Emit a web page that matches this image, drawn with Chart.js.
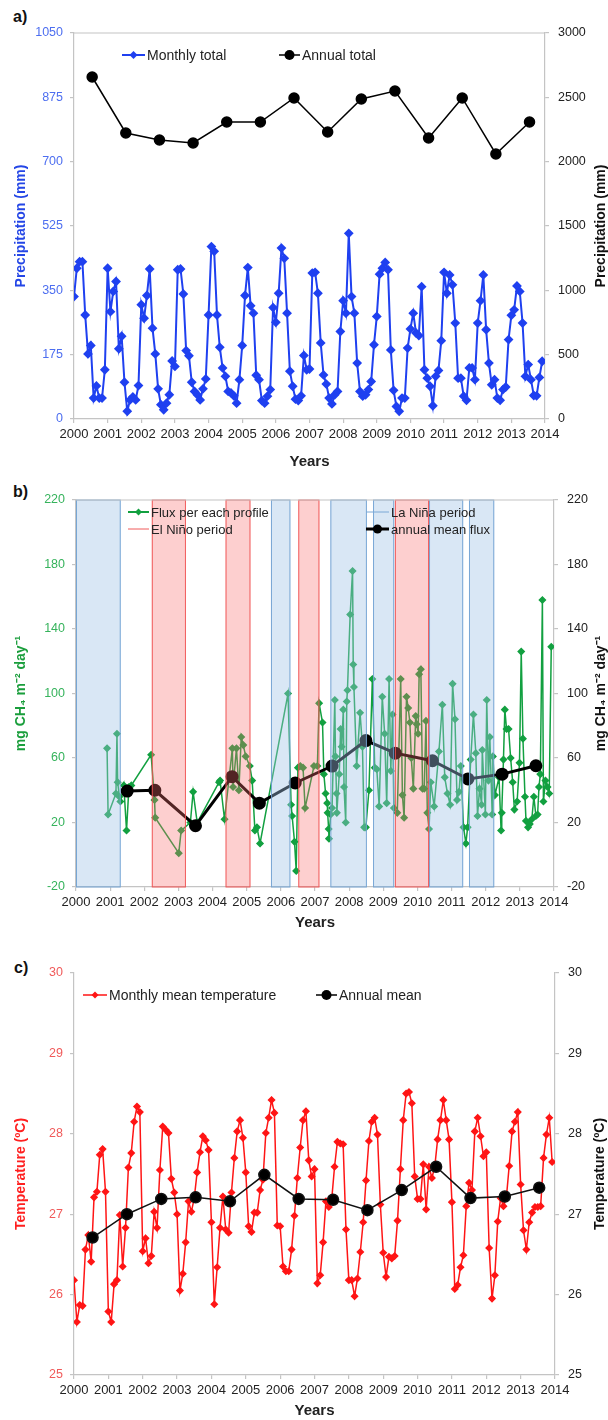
<!DOCTYPE html>
<html>
<head>
<meta charset="utf-8">
<script src="https://cdn.jsdelivr.net/npm/chart.js@4.4.0/dist/chart.umd.min.js"></script>
<style>
  body { margin: 0; background: #fff; width: 608px; height: 1420px; position: relative; overflow: hidden; font-family: "Liberation Sans", Arial, sans-serif; }
  canvas { position: absolute; left: 0; }
  .tag { position: absolute; font-weight: bold; font-size: 16px; color: #111; }
</style>
</head>
<body>
<div class="tag" style="left:13px; top:8px">a)</div>
<div class="tag" style="left:13px; top:483px">b)</div>
<div class="tag" style="left:14px; top:959px">c)</div>
<canvas id="chartA" width="608" height="480" style="top:0"></canvas>
<canvas id="chartB" width="608" height="461" style="top:480px"></canvas>
<canvas id="chartC" width="608" height="479" style="top:941px"></canvas>
<script>
const FONT = '"Liberation Sans", Arial, sans-serif';
const GRAY = '#c4c4c4';

// ---- a) precipitation ----
const years = [2000, 2001, 2002, 2003, 2004, 2005, 2006, 2007, 2008, 2009, 2010, 2011, 2012, 2013];
// monthly totals (mm), Jan 2000 .. Dec 2013
const precipMonthly = [
  333, 410, 428, 428, 283, 177, 200, 57, 90, 57, 57, 134,
  410, 292, 347, 374, 191, 225, 100, 21, 52, 60, 52, 91,
  311, 274, 336, 408, 247, 177, 82, 39, 25, 43, 66, 158,
  143, 406, 408, 340, 186, 172, 100, 75, 66, 52, 82, 109,
  283, 469, 456, 283, 195, 139, 116, 75, 71, 63, 43, 107,
  200, 336, 412, 308, 288, 119, 107, 50, 43, 62, 80, 303,
  263, 342, 465, 437, 288, 130, 89, 54, 50, 63, 173, 134,
  136, 397, 399, 342, 207, 120, 95, 57, 41, 66, 75, 238,
  322, 288, 505, 333, 288, 152, 75, 62, 66, 80, 102, 202,
  279, 394, 410, 426, 406, 188, 78, 34, 21, 57, 57, 193,
  245, 288, 234, 227, 360, 134, 111, 89, 36, 116, 132, 213,
  399, 342, 392, 365, 261, 111, 111, 62, 51, 139, 139, 107,
  261, 322, 392, 243, 152, 93, 107, 57, 51, 80, 87, 216,
  282, 297, 362, 347, 261, 116, 148, 107, 64, 63, 113, 157
];
const precipAnnual = [2658, 2223, 2168, 2145, 2308, 2308, 2495, 2231, 2487, 2549, 2184, 2495, 2060, 2308];

// ---- b) methane flux ----
const fluxTime = [
  2000.91, 2000.94, 2001.17, 2001.20, 2001.22, 2001.27, 2001.30, 2001.40, 2001.48, 2001.55, 2001.62,
  2002.20, 2002.30, 2002.32, 2003.01, 2003.08, 2003.35, 2003.43, 2003.55,
  2004.19, 2004.22, 2004.35, 2004.58, 2004.60, 2004.70, 2004.77, 2004.84, 2004.90, 2004.97,
  2005.09, 2005.16, 2005.24, 2005.30, 2005.39,
  2006.21, 2006.30, 2006.33, 2006.40, 2006.45, 2006.50, 2006.57, 2006.65, 2006.71, 2006.97,
  2007.07, 2007.12, 2007.22, 2007.26, 2007.31, 2007.36, 2007.37, 2007.40, 2007.41, 2007.46, 2007.50,
  2007.58, 2007.60, 2007.63, 2007.64, 2007.71, 2007.75, 2007.78, 2007.83, 2007.85, 2007.90, 2007.93, 2007.95,
  2008.03, 2008.10, 2008.12, 2008.14, 2008.22, 2008.32, 2008.39, 2008.44, 2008.49, 2008.58, 2008.68,
  2008.75, 2008.81, 2008.88, 2008.97,
  2009.04, 2009.10, 2009.17, 2009.22, 2009.27, 2009.31, 2009.41, 2009.51, 2009.56, 2009.61, 2009.68,
  2009.73, 2009.78, 2009.82, 2009.88, 2009.95, 2009.98,
  2010.02, 2010.05, 2010.10, 2010.15, 2010.20, 2010.25, 2010.29, 2010.34, 2010.39, 2010.49, 2010.63,
  2010.73, 2010.80, 2010.88, 2010.96,
  2011.03, 2011.10, 2011.16, 2011.22, 2011.27, 2011.35, 2011.42, 2011.47, 2011.56, 2011.64, 2011.71,
  2011.76, 2011.82, 2011.88, 2011.90, 2011.99,
  2012.03, 2012.08, 2012.12, 2012.19, 2012.21, 2012.27, 2012.39, 2012.45, 2012.47, 2012.52, 2012.56,
  2012.61, 2012.67, 2012.73, 2012.79, 2012.84, 2012.92, 2012.99,
  2013.04, 2013.09, 2013.15, 2013.18, 2013.24, 2013.29, 2013.35, 2013.41, 2013.47, 2013.52, 2013.56,
  2013.60, 2013.66, 2013.69, 2013.75, 2013.81, 2013.86, 2013.92
];
const fluxValue = [
  66, 25, 38, 75, 45, 36, 33, 43, 15, 42, 43,
  62, 34, 23, 1, 15, 20, 39, 20,
  45, 46, 22, 66, 42, 66, 40, 73, 68, 61,
  55, 46, 15, 17, 7,
  100, 31, 24, 8, -10, 54, 55, 54, 29, 55,
  55, 94, 82, 50, 38, 32, 26, 16, 10, 25, 29,
  96, 61, 38, 26, 50, 78, 67, 90, 42, 20, 95, 102,
  149, 176, 118, 104, 55, 88, 67, 17, 17, 40, 109,
  54, 53, 30, 98,
  75, 32, 109, 52, 87, 29, 26, 109, 37, 23, 98,
  91, 82, 60, 41, 86, 81,
  75, 112, 115, 41, 41, 83, 26, 16, 45, 30, 64,
  93, 48, 38, 31,
  106, 84, 34, 39, 55, 17, 7, 17, 59, 87, 63,
  24, 41, 31, 65, 25,
  96, 46, 73, 25, 61, 37, 48, 15, 26, 59, 90,
  78, 78, 60, 45, 28, 33, 57,
  126, 72, 36, 21, 17, 19, 22, 36, 24, 25, 42,
  50, 158, 33, 46, 42, 38, 129
];
const fluxAnnualTime = [2001.50, 2002.31, 2003.50, 2004.57, 2005.37, 2006.42, 2007.50, 2008.49, 2009.35, 2010.44, 2011.48, 2012.48, 2013.47];
const fluxAnnual = [39.5, 40, 18, 48.4, 32, 44.5, 55, 70.8, 63, 58.3, 47, 50, 55.2];
const elNinoPeriods = [[2002.22, 2003.22], [2004.38, 2005.11], [2006.51, 2007.13], [2009.34, 2010.34]];
const laNinaPeriods = [[2000.00, 2001.31], [2005.71, 2006.28], [2007.45, 2008.52], [2008.70, 2009.32], [2010.34, 2011.34], [2011.51, 2012.25]];

// ---- c) temperature ----
const tempMonthly = [
  26.18, 25.66, 25.87, 25.86, 26.56, 26.74, 26.41, 27.21, 27.28, 27.74, 27.81, 27.28,
  25.79, 25.66, 26.13, 26.18, 26.99, 26.35, 26.83, 27.58, 27.76, 28.15, 28.34, 28.27,
  26.54, 26.70, 26.39, 26.48, 27.03, 26.83, 27.55, 28.09, 28.05, 28.01, 27.44, 27.27,
  27.00, 26.05, 26.26, 26.65, 27.16, 27.03, 27.20, 27.52, 27.77, 27.97, 27.92, 27.80,
  26.90, 25.88, 26.34, 26.83, 27.22, 26.81, 26.77, 27.27, 27.70, 28.03, 28.17, 27.95,
  27.52, 26.85, 26.78, 27.02, 27.02, 27.30, 27.43, 28.01, 28.20, 28.42, 28.26, 26.86,
  26.85, 26.35, 26.29, 26.29, 26.56, 26.98, 27.45, 27.83, 28.17, 28.28, 27.67, 27.47,
  27.56, 26.14, 26.24, 26.65, 27.16, 27.09, 27.18, 27.59, 27.90, 27.88, 27.87, 26.81,
  26.18, 26.18, 25.98, 26.20, 26.53, 26.90, 27.42, 27.91, 28.15, 28.20, 27.99, 27.12,
  26.52, 26.22, 26.47, 26.45, 26.48, 26.92, 27.56, 28.17, 28.50, 28.52, 28.38, 27.47,
  27.19, 27.19, 27.62, 27.06, 27.59, 27.45, 27.59, 27.93, 28.17, 28.42, 28.17, 27.93,
  27.15, 26.07, 26.12, 26.34, 26.49, 27.10, 27.39, 27.30, 28.03, 28.20, 27.97, 27.72,
  27.77, 26.58, 25.95, 26.24, 26.91, 27.20, 27.10, 27.20, 27.60, 28.03, 28.15, 28.27,
  27.37, 26.80, 26.56, 26.90, 27.02, 27.09, 27.09, 27.10, 27.70, 27.99, 28.20, 27.65
];
const tempAnnual = [26.71, 27.0, 27.19, 27.21, 27.16, 27.49, 27.19, 27.18, 27.05, 27.3, 27.59, 27.2, 27.22, 27.33];

// point builders
const monthly = vals => vals.map((v, i) => ({ x: 2000 + i / 12, y: v }));
const annualPts = vals => vals.map((v, i) => ({ x: years[i] + 0.54, y: v }));
const paired = (xs, ys) => xs.map((x, i) => ({ x: x, y: ys[i] }));

// shared x axis (years)
function yearAxis(height, titleBottom) {
  return {
    type: 'linear', min: 2000, max: 2014,
    ticks: { stepSize: 1, autoSkip: false, maxRotation: 0, color: '#222', padding: 4,
             font: { size: 13, family: FONT }, callback: v => String(v) },
    grid: { drawOnChartArea: false, tickLength: 4, color: GRAY, lineWidth: 1.2 },
    border: { color: GRAY, width: 1.2 },
    title: { display: true, text: 'Years', color: '#222', font: { size: 15, weight: 'bold', family: FONT },
             padding: { top: 0, bottom: titleBottom } },
    afterFit: s => { s.height = height; }
  };
}

function valueAxis(pos, min, max, step, color, width, title, titleColor) {
  const ax = {
    position: pos, min: min, max: max,
    ticks: { stepSize: step, color: color, padding: pos === 'left' ? 7 : 9,
             font: { size: 12.5, family: FONT }, callback: v => String(v) },
    grid: { drawOnChartArea: false, tickLength: 4, color: GRAY, lineWidth: 1.2 },
    border: { color: GRAY, width: 1.2 },
    afterFit: s => { s.width = width; }
  };
  if (title) {
    ax.title = { display: true, text: title, color: titleColor,
                 font: { size: 14, weight: 'bold', family: FONT }, padding: { top: 13, bottom: 0 } };
  }
  return ax;
}

function drawMarker(ctx, style, x, y, r) {
  ctx.beginPath();
  if (style === 'circle') {
    ctx.arc(x, y, r, 0, Math.PI * 2);
  } else {
    ctx.moveTo(x, y - r); ctx.lineTo(x + r, y); ctx.lineTo(x, y + r); ctx.lineTo(x - r, y); ctx.closePath();
  }
  ctx.fill();
}

// bands, top border, right title and in-plot legend
function panelExtras(opts) {
  return {
    id: 'panelExtras',
    afterDatasetsDraw(chart) {
      const { ctx, chartArea: a } = chart;
      const x = chart.scales.x;
      (opts.bands || []).forEach(b => {
        const x0 = x.getPixelForValue(b.from), x1 = x.getPixelForValue(b.to);
        ctx.save();
        ctx.fillStyle = b.fill;
        ctx.fillRect(x0, a.top, x1 - x0, a.bottom - a.top);
        ctx.strokeStyle = b.edge;
        ctx.lineWidth = 1;
        ctx.strokeRect(x0 + 0.5, a.top, x1 - x0 - 1, a.bottom - a.top);
        ctx.restore();
      });
    },
    afterDraw(chart) {
      const { ctx, chartArea: a } = chart;
      ctx.save();
      if (opts.topLine) {
        ctx.strokeStyle = GRAY; ctx.lineWidth = 1.2;
        ctx.beginPath(); ctx.moveTo(a.left, a.top); ctx.lineTo(a.right, a.top); ctx.stroke();
      }
      if (opts.rightTitle) {
        ctx.translate(opts.rightTitle.x, (a.top + a.bottom) / 2);
        ctx.rotate(-Math.PI / 2);
        ctx.fillStyle = '#111';
        ctx.font = 'bold 14px ' + FONT;
        ctx.textAlign = 'center'; ctx.textBaseline = 'middle';
        ctx.fillText(opts.rightTitle.text, 0, 0);
        ctx.setTransform(1, 0, 0, 1, 0, 0);
      }
      ctx.font = (opts.legendSize || 14) + 'px ' + FONT;
      ctx.textAlign = 'left'; ctx.textBaseline = 'middle';
      (opts.legend || []).forEach(it => {
        ctx.strokeStyle = it.color; ctx.lineWidth = it.width;
        ctx.beginPath(); ctx.moveTo(it.x0, it.y); ctx.lineTo(it.x1, it.y); ctx.stroke();
        if (it.marker) {
          ctx.fillStyle = it.color;
          drawMarker(ctx, it.marker, (it.x0 + it.x1) / 2, it.y, it.r);
        }
        ctx.fillStyle = '#222';
        ctx.fillText(it.text, it.x1 + 2, it.y + 1);
      });
      ctx.restore();
    }
  };
}

const baseOptions = (padTop, scales) => ({
  responsive: false,
  animation: false,
  layout: { padding: { top: padTop, left: 0, right: 0, bottom: 0 } },
  plugins: { legend: { display: false }, tooltip: { enabled: false } },
  scales: scales
});

// a) monthly and annual precipitation
new Chart(document.getElementById('chartA'), {
  type: 'line',
  data: {
    datasets: [
      { label: 'Annual total', data: annualPts(precipAnnual), yAxisID: 'y1',
        borderColor: '#000', backgroundColor: '#000', borderWidth: 1.5,
        pointRadius: 5, pointStyle: 'circle' },
      { label: 'Monthly total', data: monthly(precipMonthly), yAxisID: 'y',
        borderColor: '#1f40f0', backgroundColor: '#1f40f0', borderWidth: 2,
        pointRadius: 3.5, pointStyle: 'rectRot' }
    ]
  },
  options: baseOptions(33, {
    x: yearAxis(61, 9),
    y: valueAxis('left', 0, 1050, 175, '#4d6ef0', 74, 'Precipitation (mm)', '#2446e6'),
    y1: valueAxis('right', 0, 3000, 500, '#222', 63)
  }),
  plugins: [panelExtras({
    topLine: true,
    rightTitle: { text: 'Precipitation (mm)', x: 601 },
    legend: [
      { x0: 122, x1: 145, y: 55, color: '#1f40f0', width: 2, marker: 'diamond', r: 4, text: 'Monthly total' },
      { x0: 279, x1: 300, y: 55, color: '#000', width: 1.5, marker: 'circle', r: 5, text: 'Annual total' }
    ]
  })]
});

// b) CH4 flux with ENSO periods
const bands = laNinaPeriods.map(p => ({ from: p[0], to: p[1], fill: 'rgba(160,195,230,0.4)', edge: 'rgba(110,160,210,0.9)' }))
  .concat(elNinoPeriods.map(p => ({ from: p[0], to: p[1], fill: 'rgba(250,110,110,0.33)', edge: 'rgba(240,80,80,0.9)' })));

new Chart(document.getElementById('chartB'), {
  type: 'line',
  data: {
    datasets: [
      { label: 'annual mean flux', data: paired(fluxAnnualTime, fluxAnnual), yAxisID: 'y',
        borderColor: '#000', backgroundColor: '#000', borderWidth: 3,
        pointRadius: 5, pointStyle: 'circle' },
      { label: 'Flux per each profile', data: paired(fluxTime, fluxValue), yAxisID: 'y',
        borderColor: '#12a040', backgroundColor: '#12a040', borderWidth: 1.5,
        pointRadius: 3, pointStyle: 'rectRot' }
    ]
  },
  options: baseOptions(20, {
    x: yearAxis(54, 9),
    y: valueAxis('left', -20, 220, 40, '#36b35c', 76, 'mg CH\u2084 m\u207B\u00B2 day\u207B\u00B9', '#1a9e3c'),
    y1: valueAxis('right', -20, 220, 40, '#222', 54)
  }),
  plugins: [panelExtras({
    topLine: true,
    bands: bands,
    rightTitle: { text: 'mg CH\u2084 m\u207B\u00B2 day\u207B\u00B9', x: 601 },
    legendSize: 13,
    legend: [
      { x0: 128, x1: 149, y: 32, color: '#12a040', width: 2, marker: 'diamond', r: 3.5, text: 'Flux per each profile' },
      { x0: 128, x1: 149, y: 49, color: '#f05a5a', width: 1, text: 'El Ni\u00F1o period' },
      { x0: 366, x1: 389, y: 32, color: '#7aa8d6', width: 1, text: 'La Ni\u00F1a period' },
      { x0: 366, x1: 389, y: 49, color: '#000', width: 3, marker: 'circle', r: 4.5, text: 'annual mean flux' }
    ]
  })]
});

// c) monthly and annual mean temperature
new Chart(document.getElementById('chartC'), {
  type: 'line',
  data: {
    datasets: [
      { label: 'Annual mean', data: annualPts(tempAnnual), yAxisID: 'y',
        borderColor: '#111', backgroundColor: '#000', borderWidth: 1.5,
        pointRadius: 5.5, pointStyle: 'circle' },
      { label: 'Monthly mean temperature', data: monthly(tempMonthly), yAxisID: 'y',
        borderColor: '#ff1515', backgroundColor: '#ff1515', borderWidth: 1.5,
        pointRadius: 3, pointStyle: 'rectRot' }
    ]
  },
  options: baseOptions(32, {
    x: yearAxis(45, 0),
    y: valueAxis('left', 25, 30, 1, '#f05a5a', 74, 'Temperature (\u00BAC)', '#ff2020'),
    y1: valueAxis('right', 25, 30, 1, '#222', 53)
  }),
  plugins: [panelExtras({
    rightTitle: { text: 'Temperature (\u00BAC)', x: 600 },
    legend: [
      { x0: 83, x1: 107, y: 54, color: '#ff1515', width: 1.5, marker: 'diamond', r: 3.5, text: 'Monthly mean temperature' },
      { x0: 316, x1: 337, y: 54, color: '#000', width: 1.5, marker: 'circle', r: 5, text: 'Annual mean' }
    ]
  })]
});
</script>
</body>
</html>
